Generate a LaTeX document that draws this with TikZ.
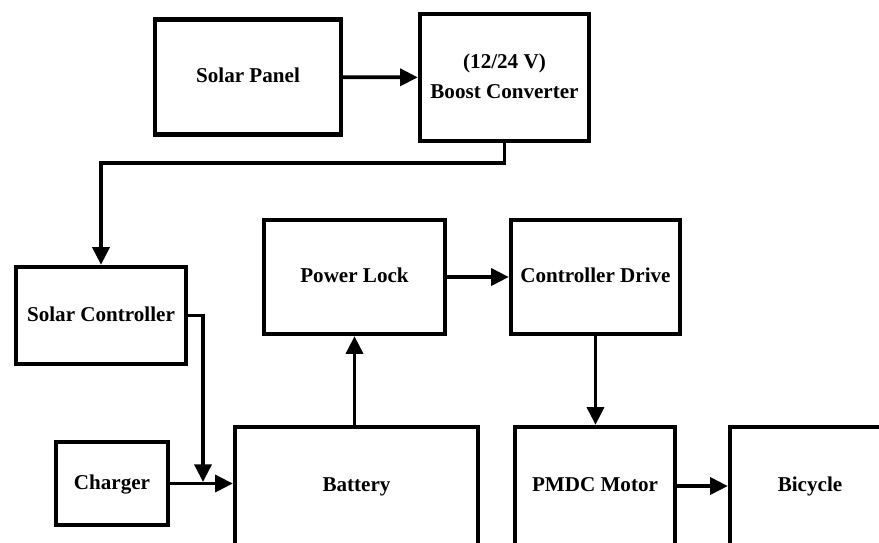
\documentclass[tikz,border=0pt]{standalone}
\usepackage{fontspec}
\setmainfont{Liberation Serif}
\usetikzlibrary{arrows.meta}
\tikzset{
  every picture/.style={font=\bfseries\fontsize{15}{21}\selectfont, x=0.025cm, y=-0.025cm},
  blk/.style={draw, line width=3.1pt, align=center, inner sep=2pt, text depth=0.22em},
  box/.style 2 args={blk, minimum width=#1*0.025cm, minimum height=#2*0.025cm},
  arrow/.style={-{Triangle[length=4.4mm, width=4.2mm]}, line width=2.7pt},
}

\begin{document}
\begin{tikzpicture}
  \clip (0,0) rectangle (879,542);
  \node[box={186}{115}] (sp) at (248, 77) {Solar Panel};
  \node[box={169}{127}] (bc) at (504.5, 77.5) {(12/24 V)\\Boost Converter};
  \node[box={170}{97}] (sc) at (101, 315.5) {Solar Controller};
  \node[box={112}{83}] (ch) at (112, 483.5) {Charger};
  \node[box={243}{118}] (bat) at (356.5, 486) {Battery};
  \node[box={181}{114}] (pl) at (354.5, 277) {Power Lock};
  \node[box={169}{114}] (cd) at (595.5, 277) {Controller Drive};
  \node[box={160}{118}] (pm) at (595, 486) {PMDC Motor};
  \node[box={160}{118}] (bi) at (810, 486) {Bicycle};
  \coordinate (jn) at (203, 482);
  \draw[arrow] (sp) -- (bc); \draw[arrow] (bc.south) -- ++(0,20) -| (sc.north);
  \draw[arrow] (sc.east) -| (jn); \draw[arrow] (ch.east) -- (ch.east -| bat.west);
  \draw[arrow] (pl.south |- bat.north) -- (pl.south); \draw[arrow] (pl) -- (cd);
  \draw[arrow] (cd.south) -- (cd.south |- pm.north); \draw[arrow] (pm) -- (bi);
\end{tikzpicture}
\end{document}
